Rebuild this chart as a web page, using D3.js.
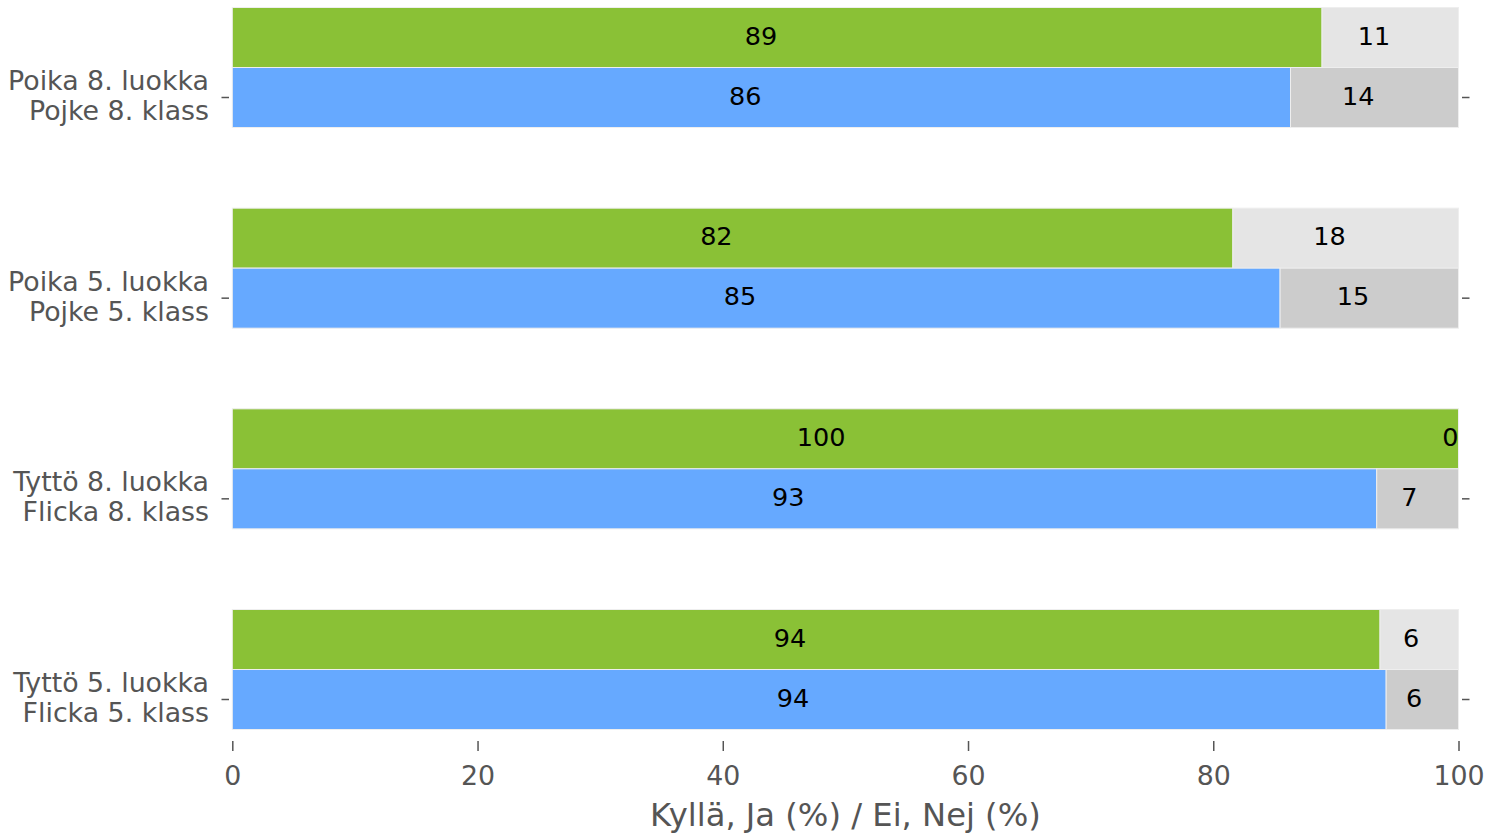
<!DOCTYPE html>
<html>
<head>
<meta charset="utf-8">
<script src="https://cdn.jsdelivr.net/npm/d3@7"></script>
<style>
  html, body { margin: 0; padding: 0; background: #fff; }
  svg text { font-family: "DejaVu Sans", sans-serif; }
</style>
</head>
<body>
<div id="chart"></div>
<script>
// categories, top to bottom (two-line labels: Finnish / Swedish)
var categories = [
    ["Poika 8. luokka", "Pojke 8. klass"],
    ["Poika 5. luokka", "Pojke 5. klass"],
    ["Tyttö 8. luokka", "Flicka 8. klass"],
    ["Tyttö 5. luokka", "Flicka 5. klass"]
];
// "Kyllä, Ja" share (%) for the two series; remainder is "Ei, Nej"
var greenYes = [88.87, 81.6, 100, 93.6];
var blueYes = [86.3, 85.45, 93.33, 94.1];
var xTicks = [0, 20, 40, 60, 80, 100];
var xLabel = "Kyllä, Ja (%) / Ei, Nej (%)";

var W = 1491, H = 833;

var svg = d3.select("#chart").append("svg")
    .attr("width", W).attr("height", H);

var x = d3.scaleLinear().domain([0, 100]).range([232.3, 1458.5]);
var y = d3.scalePoint().domain(d3.range(categories.length)).range([97.5, 699.5]);
var barH = 60;

var series = [
    { vals: greenYes, yes: "#8ac136", no: "#e5e5e5", off: -barH * 1.5 },
    { vals: blueYes, yes: "#66a9ff", no: "#cccccc", off: -barH * 0.5 }
];

var bars = svg.append("g").attr("class", "bars");
series.forEach(function(s) {
    var g = bars.append("g");
    s.vals.forEach(function(v, i) {
        var top = y(i) + s.off;
        g.append("rect")
            .attr("x", x(0)).attr("y", top)
            .attr("width", x(v) - x(0)).attr("height", barH)
            .attr("fill", s.yes).attr("stroke", "#eeeeee").attr("stroke-width", 1);
        g.append("rect")
            .attr("x", x(v)).attr("y", top)
            .attr("width", x(100) - x(v)).attr("height", barH)
            .attr("fill", s.no).attr("stroke", "#eeeeee").attr("stroke-width", 1);
        // value labels, right edge at the middle of each segment
        [[v / 2, Math.round(v)], [v + (100 - v) / 2, Math.round(100 - v)]].forEach(function(d) {
            g.append("text")
                .attr("x", x(d[0])).attr("y", top + barH / 2 + 7)
                .attr("text-anchor", "end")
                .attr("font-size", "25.5px")
                .attr("fill", "#000")
                .text(d[1]);
        });
    });
});

// left / right ticks and category labels
var axisG = svg.append("g").attr("class", "axes");
categories.forEach(function(c, i) {
    var yy = y(i);
    axisG.append("line").attr("x1", 221.5).attr("x2", 229).attr("y1", yy).attr("y2", yy)
        .attr("stroke", "#555").attr("stroke-width", 1.5);
    axisG.append("line").attr("x1", 1462).attr("x2", 1469.5).attr("y1", yy).attr("y2", yy)
        .attr("stroke", "#555").attr("stroke-width", 1.5);
    c.forEach(function(line, k) {
        axisG.append("text")
            .attr("x", 209).attr("y", yy - 7.5 + k * 30)
            .attr("text-anchor", "end")
            .attr("font-size", "26.8px")
            .attr("fill", "#555")
            .text(line);
    });
});

// bottom axis
var xAxis = svg.append("g").attr("transform", "translate(0,741)")
    .call(d3.axisBottom(x).tickValues(xTicks).tickSize(10).tickPadding(0).tickFormat(d3.format("d")));
xAxis.select(".domain").remove();
xAxis.selectAll(".tick line").attr("stroke", "#555").attr("stroke-width", 1.5);
xAxis.selectAll(".tick text")
    .attr("y", 43.5).attr("dy", null)
    .attr("fill", "#555")
    .attr("font-size", "26.8px")
    .attr("font-family", "DejaVu Sans, sans-serif");

svg.append("text")
    .attr("x", x(50)).attr("y", 826)
    .attr("text-anchor", "middle")
    .attr("font-size", "32.2px")
    .attr("fill", "#555")
    .text(xLabel);
</script>
</body>
</html>
